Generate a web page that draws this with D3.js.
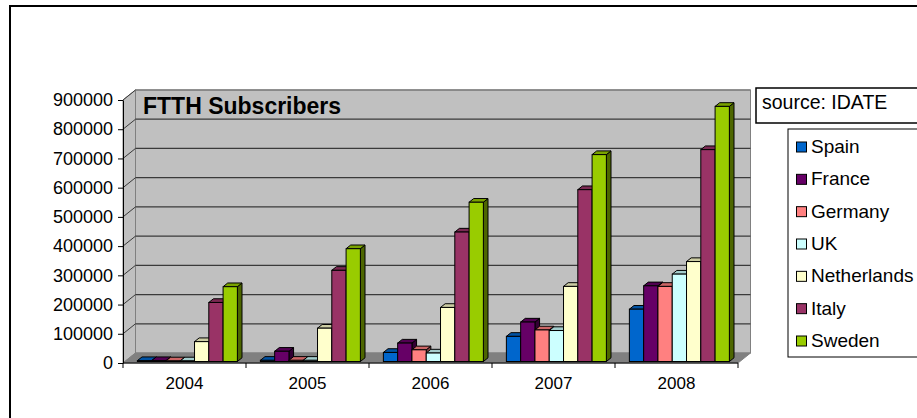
<!DOCTYPE html>
<html><head><meta charset="utf-8">
<script src="https://cdn.jsdelivr.net/npm/d3@7"></script>
<style>body{margin:0;background:#fff}svg{display:block}text{font-family:"Liberation Sans",Arial,sans-serif}</style>
</head><body><svg id="c" width="917" height="418"></svg>
<script>
const years = ["2004","2005","2006","2007","2008"];
const seriesNames = ["Spain","France","Germany","UK","Netherlands","Italy","Sweden"];
const seriesColors = ["#0066CC","#660066","#FF8080","#CCFFFF","#FFFFCC","#993366","#99CC00"];
const spain       = [3000, 4000, 31000, 86000, 179000];
const france      = [3000, 35000, 63000, 135000, 259000];
const germany     = [2000, 4000, 40000, 108000, 257000];
const uk          = [2000, 4000, 29000, 106000, 299000];
const netherlands = [68000, 114000, 185000, 257000, 342000];
const italy       = [202000, 312000, 443000, 588000, 725000];
const sweden      = [256000, 386000, 545000, 708000, 873000];
const seriesValues = [spain, france, germany, uk, netherlands, italy, sweden];
const yTicks = [0,100000,200000,300000,400000,500000,600000,700000,800000,900000];
const chartTitle = "FTTH Subscribers";
const sourceText = "source: IDATE";

(function(){
const svg = d3.select("#c");
// frame
svg.append("rect").attr("x",10).attr("y",6).attr("width",940).attr("height",440)
  .attr("fill","#fff").attr("stroke","#000").attr("stroke-width",2);

const pL = 123, pR = 738, pB = 363, pT = 100;
const DX = 12.5, DY = -10; // full depth offset
const y = d3.scaleLinear().domain([0,900000]).range([pB, pT]);
const x = d3.scaleBand().domain(years).range([pL, pR]).padding(0);
const xs = d3.scaleBand().domain(seriesNames).range([12.5, 112.5]).padding(0);

const g = svg.append("g");
// side wall
g.append("path").attr("d",`M${pL},${pT}L${pL+DX},${pT+DY}L${pL+DX},${pB+DY}L${pL},${pB}Z`)
  .attr("fill","#c0c0c0").attr("stroke","#808080");
// back wall
g.append("rect").attr("x",pL+DX).attr("y",pT+DY).attr("width",pR-pL).attr("height",pB-pT)
  .attr("fill","#c0c0c0").attr("stroke","#808080");
// gridlines
yTicks.filter(v=>v>0).forEach(v=>{
  const yy = y(v);
  g.append("line").attr("x1",pL+DX).attr("x2",pR+DX).attr("y1",yy+DY).attr("y2",yy+DY)
    .attr("stroke", v===900000 ? "#808080" : "#3a3a3a").attr("stroke-width",1.3);
  g.append("line").attr("x1",pL).attr("x2",pL+DX).attr("y1",yy).attr("y2",yy+DY)
    .attr("stroke","#3a3a3a").attr("stroke-width",1);
});
// floor
g.append("path").attr("d",`M${pL},${pB}L${pR},${pB}L${pR+DX},${pB+DY}L${pL+DX},${pB+DY}Z`)
  .attr("fill","#808080").attr("stroke","#808080");

// bars
const d0 = 0.15, d1 = 0.52;
function shade(c,k){const o=d3.rgb(c);return d3.rgb(o.r*k,o.g*k,o.b*k).toString();}
years.forEach((yr,i)=>{
  seriesNames.forEach((s,j)=>{
    const v = seriesValues[j][i];
    const x0 = x(yr)+xs(s)+DX*d0, x1 = x0+xs.bandwidth();
    const yb = y(0)+DY*d0, yt = y(v)+DY*d0;
    const ox = DX*(d1-d0), oy = DY*(d1-d0);
    const col = seriesColors[j];
    g.append("path").attr("d",`M${x1},${yb}L${x1+ox},${yb+oy}L${x1+ox},${yt+oy}L${x1},${yt}Z`)
      .attr("fill",shade(col,0.5)).attr("stroke","#000").attr("stroke-width",1).attr("stroke-linejoin","round");
    g.append("path").attr("d",`M${x0},${yt}L${x1},${yt}L${x1+ox},${yt+oy}L${x0+ox},${yt+oy}Z`)
      .attr("fill",shade(col,0.8)).attr("stroke","#000").attr("stroke-width",1).attr("stroke-linejoin","round");
    g.append("rect").attr("x",x0).attr("y",yt).attr("width",x1-x0).attr("height",yb-yt)
      .attr("fill",col).attr("stroke","#000").attr("stroke-width",1);
  });
});

// y axis
const ya = svg.append("g").attr("transform",`translate(${pL},0)`)
  .call(d3.axisLeft(y).tickValues(yTicks).tickFormat(d3.format("d")).tickSize(5).tickSizeOuter(0).tickPadding(5));
ya.select(".domain").attr("stroke","#000");
ya.selectAll(".tick line").attr("stroke","#000");
ya.selectAll("text").attr("font-size",18).attr("fill","#000").attr("font-family","'Liberation Sans',Arial,sans-serif");

// x axis
svg.append("line").attr("x1",pL).attr("x2",pR).attr("y1",pB).attr("y2",pB).attr("stroke","#000");
years.concat(["end"]).forEach((yr,i)=>{
  const xx = i<years.length ? x(yr) : pR;
  svg.append("line").attr("x1",xx).attr("x2",xx).attr("y1",pB).attr("y2",pB+5).attr("stroke","#000");
});
years.forEach(yr=>{
  svg.append("text").attr("x",x(yr)+x.bandwidth()/2).attr("y",385).attr("text-anchor","middle")
    .attr("dominant-baseline","middle").attr("font-size",17).text(yr);
});

// title
svg.append("text").attr("x",143).attr("y",113.5).attr("font-size",23).attr("font-weight","bold").text(chartTitle);

// source box
svg.append("rect").attr("x",756).attr("y",88).attr("width",200).attr("height",35)
  .attr("fill","#fff").attr("stroke","#000").attr("stroke-width",1.5);
svg.append("text").attr("x",762).attr("y",104).attr("dominant-baseline","middle").attr("font-size",19.5).text(sourceText);

// legend
svg.append("rect").attr("x",788).attr("y",129).attr("width",200).attr("height",228)
  .attr("fill","#fff").attr("stroke","#000").attr("stroke-width",1);
const ly = d3.scalePoint().domain(seriesNames).range([147,341]);
seriesNames.forEach((s,j)=>{
  svg.append("rect").attr("x",796.5).attr("y",ly(s)-5).attr("width",10).attr("height",10)
    .attr("fill",seriesColors[j]).attr("stroke","#000").attr("stroke-width",1);
  svg.append("text").attr("x",811).attr("y",ly(s)+1).attr("dominant-baseline","middle").attr("font-size",19).text(s);
});
})();
</script></body></html>
